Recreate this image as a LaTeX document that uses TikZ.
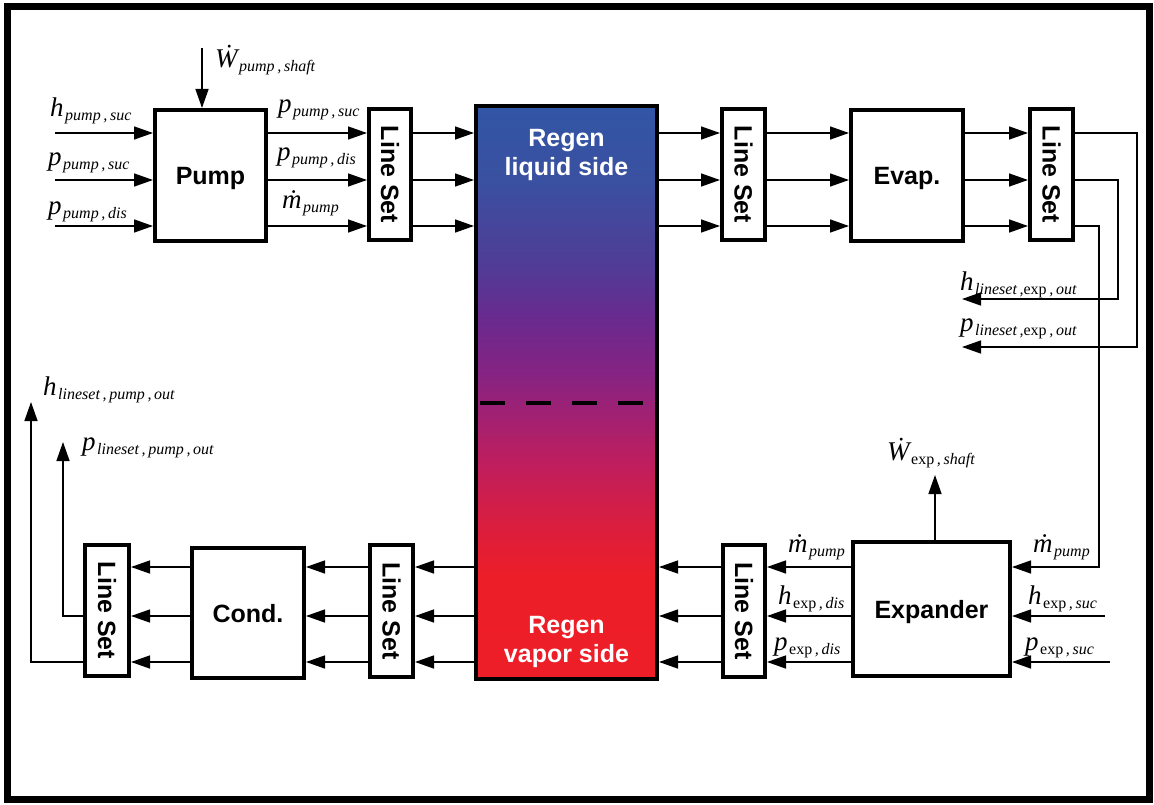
\documentclass[tikz,border=0pt]{standalone}
\usepackage{fontspec}
\setmainfont{Liberation Serif}
\newfontfamily\blockfont{Liberation Sans}
\usetikzlibrary{arrows.meta}

% Formelzeichen: Hauptzeichen und Index
\newcommand{\lbl}[2]{{\fontsize{27}{27}\selectfont\itshape #1}\kern1.5pt\raisebox{-4pt}{\fontsize{16}{16}\selectfont\itshape #2}}

% Farbverlauf des Regenerators (oben blau, unten rot)
\definecolor{rg0}{RGB}{50,85,165}
\definecolor{rg1}{RGB}{58,80,160}
\definecolor{rg2}{RGB}{80,60,150}
\definecolor{rg3}{RGB}{105,42,142}
\definecolor{rg4}{RGB}{135,35,130}
\definecolor{rg5}{RGB}{190,30,95}
\definecolor{rg6}{RGB}{220,30,60}
\definecolor{rg7}{RGB}{236,30,40}
\definecolor{rg8}{RGB}{237,30,40}
\pgfdeclareverticalshading{regshade}{100bp}{color(0bp)=(rg8); color(25bp)=(rg8);
  color(34bp)=(rg7); color(38bp)=(rg6); color(44bp)=(rg5); color(51.5bp)=(rg4);
  color(56.5bp)=(rg3); color(61bp)=(rg2); color(68.5bp)=(rg1); color(75bp)=(rg0); color(100bp)=(rg0)}

\begin{document}
\begin{tikzpicture}[x=1pt, y=-1pt,
    block/.style={draw, line width=4pt, fill=white, inner sep=0pt,
      font=\blockfont\bfseries\fontsize{25}{25}\selectfont},
    sqblock/.style={block, text height=18pt, text depth=0pt},
    flow/.style={line width=1.4pt, -{Triangle[length=19pt, width=13pt]}},
    var/.style={anchor=base west, inner sep=0pt},
    regtxt/.style={align=center, text=white, inner sep=0pt,
      font=\blockfont\bfseries\fontsize{25}{29}\selectfont}]

    \useasboundingbox (0,0) rectangle (1154,805);

    % 1. Rahmen
    \draw[line width=7pt] (7.5,7) rectangle (1149.5,799);

    % 2. Bloecke
    \node[draw, line width=4pt, shading=regshade,
      minimum width=181pt, minimum height=573pt] (regen) at (566.5,392.5) {};
    \node[sqblock, minimum width=111pt, minimum height=131pt] (pump) at (210.5,175.5) {Pump};
    \node[block, minimum width=42pt, minimum height=131pt] (ls1) at (390,174.5) {\rotatebox{-90}{Line Set}};
    \node[block, minimum width=43pt, minimum height=131pt] (ls2) at (743.5,174.5) {\rotatebox{-90}{Line Set}};
    \node[sqblock, minimum width=112pt, minimum height=131pt] (evap) at (907,175.5) {Evap.};
    \node[block, minimum width=43pt, minimum height=131pt] (ls3) at (1051.5,174.5) {\rotatebox{-90}{Line Set}};
    \node[sqblock, minimum width=157pt, minimum height=134pt] (exp) at (931.5,609) {Expander};
    \node[block, minimum width=42pt, minimum height=132pt] (ls4) at (744,611) {\rotatebox{-90}{Line Set}};
    \node[block, minimum width=43pt, minimum height=132pt] (ls5) at (391.5,611) {\rotatebox{-90}{Line Set}};
    \node[sqblock, minimum width=112pt, minimum height=130pt] (cond) at (248,613) {Cond.};
    \node[block, minimum width=44pt, minimum height=131pt] (ls6) at (107,610.5) {\rotatebox{-90}{Line Set}};

    % 3. Regenerator: Beschriftung und Trennlinie
    \node[regtxt] (regliq) at (566.5,155) {Regen\\liquid side};
    \node[regtxt] (regvap) at (566.5,642) {Regen\\vapor side};
    \draw[line width=4pt, dash pattern=on 25pt off 21pt] (480,403) -- (650,403);

    % 4. Zeilen und freie Enden
    \coordinate (r1) at (0,133);
    \coordinate (r2) at (0,180);
    \coordinate (r3) at (0,226);
    \coordinate (b1) at (0,567);
    \coordinate (b2) at (0,616);
    \coordinate (b3) at (0,662);
    \coordinate (in1) at (55,133);
    \coordinate (in2) at (55,180);
    \coordinate (in3) at (55,226);
    \coordinate (wpump) at (202,48);
    \coordinate (wexp) at (935,475);
    \coordinate (hcorner) at (1118,299);
    \coordinate (hout) at (962,299);
    \coordinate (pcorner) at (1137,347);
    \coordinate (pout) at (962,347);
    \coordinate (mcorner) at (1099,567);
    \coordinate (hsuc) at (1105,616);
    \coordinate (psuc) at (1110,662);
    \coordinate (pup) at (63,442);
    \coordinate (hup) at (31,402);

    % 5. Verbindungen oben (nach rechts)
    \draw (in1) edge[flow] (pump.west |- r1) (pump.east |- r1) edge[flow] (ls1.west |- r1)
      (ls1.east |- r1) edge[flow] (regen.west |- r1) (regen.east |- r1) edge[flow] (ls2.west |- r1)
      (ls2.east |- r1) edge[flow] (evap.west |- r1) (evap.east |- r1) edge[flow] (ls3.west |- r1);
    \draw (in2) edge[flow] (pump.west |- r2) (pump.east |- r2) edge[flow] (ls1.west |- r2)
      (ls1.east |- r2) edge[flow] (regen.west |- r2) (regen.east |- r2) edge[flow] (ls2.west |- r2)
      (ls2.east |- r2) edge[flow] (evap.west |- r2) (evap.east |- r2) edge[flow] (ls3.west |- r2);
    \draw (in3) edge[flow] (pump.west |- r3) (pump.east |- r3) edge[flow] (ls1.west |- r3)
      (ls1.east |- r3) edge[flow] (regen.west |- r3) (regen.east |- r3) edge[flow] (ls2.west |- r3)
      (ls2.east |- r3) edge[flow] (evap.west |- r3) (evap.east |- r3) edge[flow] (ls3.west |- r3);
    \draw[flow] (wpump) -- (pump.north -| wpump);

    % 6. Rueckfuehrung rechts
    \draw[flow] (ls3.east |- r1) -| (pcorner) -- (pout);
    \draw[flow] (ls3.east |- r2) -| (hcorner) -- (hout);
    \draw[flow] (ls3.east |- r3) -| (mcorner) -- (exp.east |- mcorner);
    \draw[flow] (hsuc) -- (exp.east |- hsuc);
    \draw[flow] (psuc) -- (exp.east |- psuc);
    \draw[flow] (exp.north -| wexp) -- (wexp);

    % 7. Verbindungen unten (nach links)
    \draw (exp.west |- b1) edge[flow] (ls4.east |- b1) (ls4.west |- b1) edge[flow] (regen.east |- b1)
      (regen.west |- b1) edge[flow] (ls5.east |- b1) (ls5.west |- b1) edge[flow] (cond.east |- b1)
      (cond.west |- b1) edge[flow] (ls6.east |- b1);
    \draw (exp.west |- b2) edge[flow] (ls4.east |- b2) (ls4.west |- b2) edge[flow] (regen.east |- b2)
      (regen.west |- b2) edge[flow] (ls5.east |- b2) (ls5.west |- b2) edge[flow] (cond.east |- b2)
      (cond.west |- b2) edge[flow] (ls6.east |- b2);
    \draw (exp.west |- b3) edge[flow] (ls4.east |- b3) (ls4.west |- b3) edge[flow] (regen.east |- b3)
      (regen.west |- b3) edge[flow] (ls5.east |- b3) (ls5.west |- b3) edge[flow] (cond.east |- b3)
      (cond.west |- b3) edge[flow] (ls6.east |- b3);
    \draw[flow] (ls6.west |- b2) -| (pup);
    \draw[flow] (ls6.west |- b3) -| (hup);

    % 8. Beschriftung der Groessen
    \node[var] (hps) at (50,117) {\lbl{h}{pump\,,\,suc}};
    \node[var] (pps) at (48,166) {\lbl{p}{pump\,,\,suc}};
    \node[var] (ppd) at (48,215) {\lbl{p}{pump\,,\,dis}};
    \node[var] (wps) at (215,68) {\lbl{\.{W}}{pump\,,\,shaft}};
    \node[var] (ppsout) at (278,113) {\lbl{p}{pump\,,\,suc}};
    \node[var] (ppdout) at (277,161) {\lbl{p}{pump\,,\,dis}};
    \node[var] (mpout) at (282,209) {\lbl{\.{m}}{pump}};
    \node[var] (hleo) at (960,290) {\lbl{h}{lineset\,,\textup{exp}\,,\,out}};
    \node[var] (pleo) at (960,331) {\lbl{p}{lineset\,,\textup{exp}\,,\,out}};
    \node[var] (wes) at (887,460) {\lbl{\.{W}}{\textup{exp}\,,\,shaft}};
    \node[var] (mpdis) at (788,552) {\lbl{\.{m}}{pump}};
    \node[var] (hed) at (778,604) {\lbl{h}{\textup{exp}\,,\,dis}};
    \node[var] (ped) at (774,650) {\lbl{p}{\textup{exp}\,,\,dis}};
    \node[var] (mpsuc) at (1033,552) {\lbl{\.{m}}{pump}};
    \node[var] (hes) at (1028,604) {\lbl{h}{\textup{exp}\,,\,suc}};
    \node[var] (pes) at (1025,650) {\lbl{p}{\textup{exp}\,,\,suc}};
    \node[var] (hlpo) at (43,395) {\lbl{h}{lineset\,,\,pump\,,\,out}};
    \node[var] (plpo) at (82,450) {\lbl{p}{lineset\,,\,pump\,,\,out}};

\end{tikzpicture}
\end{document}
